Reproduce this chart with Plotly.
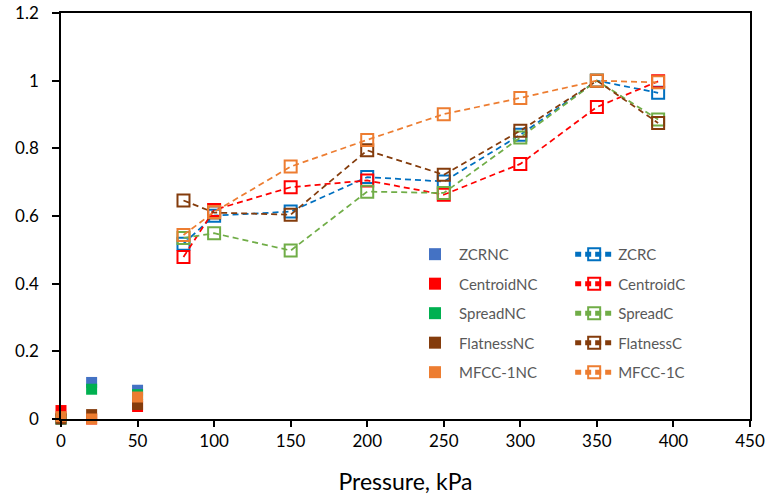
import plotly.graph_objects as go

# Non-compressed (NC) series: filled markers only
x_nc = [0, 20, 50]
zcr_nc = [0.0, 0.108, 0.085]
centroid_nc = [0.025, 0.0, 0.037]
spread_nc = [0.0, 0.088, 0.072]
flatness_nc = [0.0, 0.013, 0.043]
mfcc_nc = [0.007, 0.0, 0.065]

# Compressed (C) series: dashed lines with open squares
x_c = [80, 100, 150, 200, 250, 300, 350, 390]
zcr_c = [0.518, 0.601, 0.613, 0.715, 0.702, 0.840, 1.0, 0.964]
centroid_c = [0.479, 0.618, 0.685, 0.705, 0.663, 0.754, 0.922, 0.998]
spread_c = [0.535, 0.549, 0.498, 0.672, 0.668, 0.832, 1.0, 0.885]
flatness_c = [0.646, 0.610, 0.604, 0.794, 0.722, 0.852, 1.0, 0.875]
mfcc_c = [0.544, 0.612, 0.746, 0.825, 0.901, 0.949, 1.0, 0.995]

x_ticks = [0, 50, 100, 150, 200, 250, 300, 350, 400, 450]
y_ticks = [0, 0.2, 0.4, 0.6, 0.8, 1.0, 1.2]
y_ticktext = ["0", "0.2", "0.4", "0.6", "0.8", "1", "1.2"]

nc_names = ["ZCRNC", "CentroidNC", "SpreadNC", "FlatnessNC", "MFCC-1NC"]
nc_vals = [zcr_nc, centroid_nc, spread_nc, flatness_nc, mfcc_nc]
nc_colors = ["#4472C4", "#FF0000", "#00B050", "#843C0C", "#ED7D31"]

c_names = ["ZCRC", "CentroidC", "SpreadC", "FlatnessC", "MFCC-1C"]
c_vals = [zcr_c, centroid_c, spread_c, flatness_c, mfcc_c]
c_colors = ["#0070C0", "#FF0000", "#70AD47", "#843C0C", "#ED7D31"]

FONT = "Lato"

fig = go.Figure()
for i, (n, v, col) in enumerate(zip(nc_names, nc_vals, nc_colors)):
    fig.add_trace(go.Scatter(
        x=x_nc, y=v, name=n, mode="markers", legend="legend",
        legendgroup="nc%d" % i,
        marker=dict(symbol="square", size=11, color=col, line=dict(width=0)),
        cliponaxis=False,
    ))
for i, (n, v, col) in enumerate(zip(c_names, c_vals, c_colors)):
    fig.add_trace(go.Scatter(
        x=x_c, y=v, name=n, mode="lines+markers", legend="legend2",
        legendgroup="c%d" % i,
        line=dict(color=col, width=1.75, dash="6px,4px"),
        marker=dict(symbol="square-open", size=12, color=col, line=dict(width=2, color=col)),
        cliponaxis=False,
    ))

legend_common = dict(
    font=dict(family=FONT, size=15, color="#595959"),
    bgcolor="rgba(0,0,0,0)", borderwidth=0,
    xanchor="left", yanchor="top",
    tracegroupgap=7, itemsizing="constant", itemwidth=38,
)

fig.update_layout(
    width=769, height=499,
    margin=dict(l=61, r=19, t=13, b=80, autoexpand=False),
    paper_bgcolor="white", plot_bgcolor="white",
    font=dict(family=FONT, size=17, color="#000000"),
    showlegend=True,
    legend=dict(x=0.508, y=0.446, **legend_common),
    legend2=dict(x=0.739, y=0.446, **legend_common),
    xaxis=dict(
        range=[0, 450], tickvals=x_ticks, automargin=False,
        showline=True, linecolor="black", linewidth=1.5, mirror=True,
        ticks="outside", ticklen=6, tickcolor="black", tickwidth=1.5,
        showgrid=False, zeroline=False,
        tickfont=dict(family=FONT, size=17, color="#000000"),
        title=dict(text="Pressure, kPa", font=dict(family=FONT, size=23, color="#000000"), standoff=24),
    ),
    yaxis=dict(
        range=[0, 1.2], tickvals=y_ticks, ticktext=y_ticktext, automargin=False,
        showline=True, linecolor="black", linewidth=1.5, mirror=True,
        ticks="outside", ticklen=7, tickcolor="black", tickwidth=1.5,
        ticklabelstandoff=10,
        showgrid=False, zeroline=False,
        tickfont=dict(family=FONT, size=17, color="#000000"),
    ),
)

fig.write_html("out.html")
